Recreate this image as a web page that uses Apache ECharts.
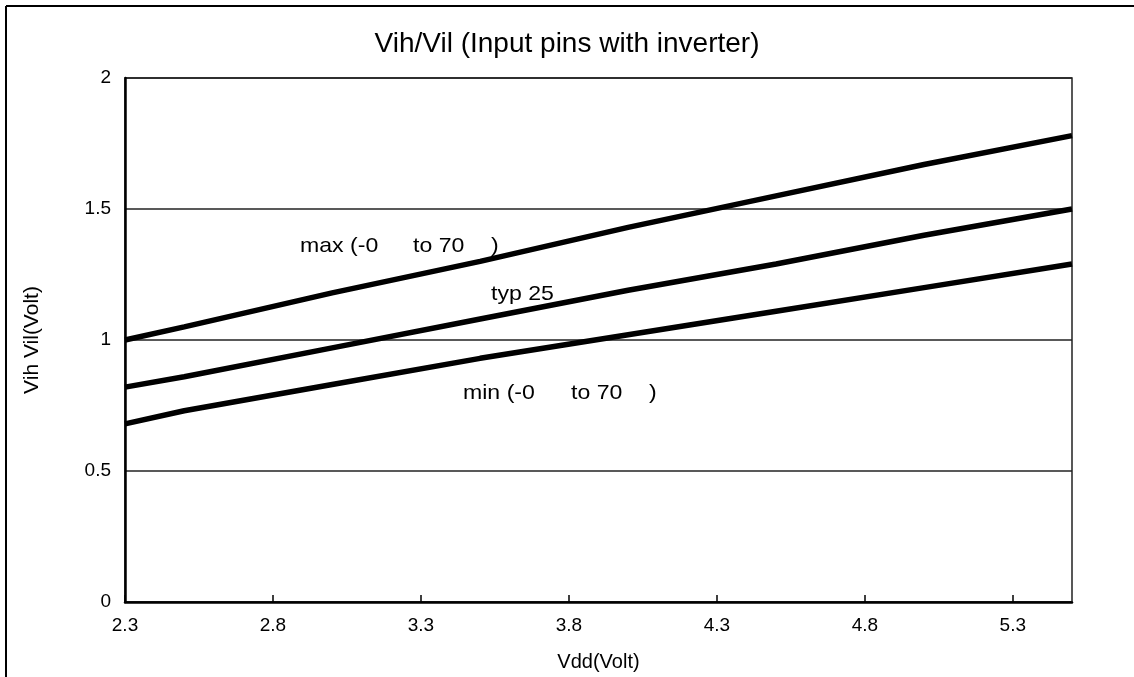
<!DOCTYPE html>
<html>
<head>
<meta charset="utf-8">
<script src="https://cdn.jsdelivr.net/npm/echarts@6/dist/echarts.min.js"></script>
<style>
html,body{margin:0;padding:0;background:#fff;}
#chart{width:1134px;height:677px;}
</style>
</head>
<body>
<div id="chart"></div>
<script>
// Data
var vdd  = [2.3, 2.5, 3.0, 3.5, 4.0, 4.5, 5.0, 5.5];
var maxV = [1.00, 1.05, 1.18, 1.30, 1.43, 1.55, 1.67, 1.78];
var typV = [0.82, 0.86, 0.97, 1.08, 1.19, 1.29, 1.40, 1.50];
var minV = [0.68, 0.73, 0.83, 0.93, 1.02, 1.11, 1.20, 1.29];
var xTicks = [2.3, 2.8, 3.3, 3.8, 4.3, 4.8, 5.3];
var titleText = 'Vih/Vil (Input pins with inverter)';
var xName = 'Vdd(Volt)';
var yName = 'Vih Vil(Volt)';
var notes = ['max (-0', 'to 70', ')', 'typ 25', 'min (-0', 'to 70', ')'];

function pairs(ys){ return vdd.map(function(x,i){ return [x, ys[i]]; }); }

var FONT = '"Liberation Sans", Arial, sans-serif';
var chart = echarts.init(document.getElementById('chart'));

function note(txt, x, y){
  return {type:'text', x:x, y:y, z:10, scaleX:1.1,
    style:{text:txt, fill:'#000', font:'21px ' + FONT, verticalAlign:'middle', align:'left'}};
}

var lineStyle = {color:'#000', width:5.5};
function ser(name, ys){
  return {name:name, type:'line', data:pairs(ys), showSymbol:false, symbol:'none',
    lineStyle:lineStyle, itemStyle:{color:'#000'}, z:5, silent:true};
}

chart.setOption({
  animation:false,
  backgroundColor:'#fff',
  title:{text:titleText, left:'center', top:25,
    textStyle:{fontFamily:FONT, fontSize:28, fontWeight:'normal', color:'#000'}},
  grid:{left:125, right:62, top:78, bottom:74, show:true, borderColor:'#222', borderWidth:1.5},
  xAxis:{type:'value', min:2.3, max:5.5,
    name:xName, nameLocation:'middle', nameGap:50,
    nameTextStyle:{fontFamily:FONT, fontSize:20, color:'#000'},
    axisLine:{show:true, lineStyle:{color:'#000', width:2.5}},
    axisTick:{show:true, inside:true, length:7, customValues:xTicks, lineStyle:{color:'#000', width:1.5}},
    axisLabel:{customValues:xTicks, margin:14, fontFamily:FONT, fontSize:19, color:'#000',
      formatter:function(v){ return v.toFixed(1); }},
    splitLine:{show:false}},
  yAxis:{type:'value', min:0, max:2, interval:0.5,
    name:yName, nameLocation:'middle', nameGap:82, nameRotate:90,
    nameTextStyle:{fontFamily:FONT, fontSize:21, color:'#000'},
    axisLine:{show:true, lineStyle:{color:'#000', width:2.5}},
    axisTick:{show:false},
    axisLabel:{margin:14, fontFamily:FONT, fontSize:19, color:'#000'},
    splitLine:{show:true, lineStyle:{color:'#222', width:1.5}}},
  series:[ser('max', maxV), ser('typ', typV), ser('min', minV)],
  graphic:[
    {type:'line', shape:{x1:6, y1:6, x2:1134, y2:6}, style:{stroke:'#000', lineWidth:2}},
    {type:'line', shape:{x1:6, y1:6, x2:6, y2:677}, style:{stroke:'#000', lineWidth:2}},
    note(notes[0], 300, 246),
    note(notes[1], 413, 246),
    note(notes[2], 491, 246),
    note(notes[3], 491, 294),
    note(notes[4], 463, 393),
    note(notes[5], 571, 393),
    note(notes[6], 649, 393)
  ]
});
</script>
</body>
</html>
